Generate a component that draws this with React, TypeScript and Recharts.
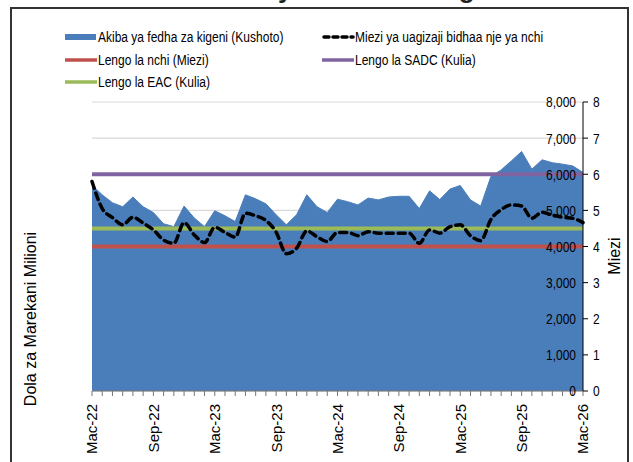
import { ComposedChart, Area, Line, XAxis, YAxis, CartesianGrid, ReferenceLine } from "recharts"

const months = [
  "Mac-22", "Apr-22", "Mei-22", "Jun-22", "Jul-22", "Ago-22", "Sep-22", "Okt-22", "Nov-22", "Des-22", "Jan-23", "Feb-23",
  "Mac-23", "Apr-23", "Mei-23", "Jun-23", "Jul-23", "Ago-23", "Sep-23", "Okt-23", "Nov-23", "Des-23", "Jan-24", "Feb-24",
  "Mac-24", "Apr-24", "Mei-24", "Jun-24", "Jul-24", "Ago-24", "Sep-24", "Okt-24", "Nov-24", "Des-24", "Jan-25", "Feb-25",
  "Mac-25", "Apr-25", "Mei-25", "Jun-25", "Jul-25", "Ago-25", "Sep-25", "Okt-25", "Nov-25", "Des-25", "Jan-26", "Feb-26",
  "Mac-26",
]

// Akiba ya fedha za kigeni (milioni USD)
const reserves = [
  5700, 5430, 5210, 5100, 5370, 5100, 4940, 4630, 4550, 5120, 4790, 4550,
  4990, 4850, 4690, 5430, 5320, 5180, 4880, 4600, 4880, 5430, 5100, 4940,
  5310, 5240, 5150, 5340, 5290, 5370, 5390, 5390, 5050, 5540, 5300, 5590,
  5690, 5290, 5120, 5940, 6120, 6370, 6630, 6140, 6400, 6320, 6280, 6230,
  6050,
]

// Miezi ya uagizaji bidhaa nje ya nchi
const importMonths = [
  5.8, 5.05, 4.8, 4.6, 4.81, 4.65, 4.46, 4.18, 4.09, 4.66, 4.32, 4.11,
  4.53, 4.39, 4.26, 4.92, 4.85, 4.72, 4.4, 3.8, 3.95, 4.43, 4.27, 4.14,
  4.39, 4.39, 4.3, 4.41, 4.37, 4.37, 4.37, 4.37, 4.09, 4.46, 4.37, 4.55,
  4.6, 4.3, 4.16, 4.75, 5.02, 5.15, 5.12, 4.78, 4.95, 4.87, 4.81, 4.78,
  4.66,
]

const targetNational = 4
const targetSADC = 6
const targetEAC = 4.5

const leftTicks = [0, 1000, 2000, 3000, 4000, 5000, 6000, 7000, 8000]
const rightTicks = [0, 1, 2, 3, 4, 5, 6, 7, 8]

const legendItems = [
  { name: "Akiba ya fedha za kigeni (Kushoto)", color: "#4A7EBB", kind: "area" },
  { name: "Miezi ya uagizaji bidhaa nje ya nchi", color: "#000000", kind: "dash" },
  { name: "Lengo la nchi (Miezi)", color: "#C0504D", kind: "line" },
  { name: "Lengo la SADC (Kulia)", color: "#8064A2", kind: "line" },
  { name: "Lengo la EAC (Kulia)", color: "#9BBB59", kind: "line" },
]

const data = months.map((m, i) => ({ month: m, reserves: reserves[i], cover: importMonths[i] }))

const font = "'Liberation Sans', Arial, sans-serif"
const squeeze = 0.8

function MonthTick(props: any) {
  const { x, y, payload, index } = props
  if (index % 6 !== 0) return null
  return (
    <g transform={`translate(${x},${y})`}>
      <text transform="rotate(-90)" textAnchor="end" dy="0.36em" dx={-6} fontSize={15} fontFamily={font} fill="#000">
        {payload.value}
      </text>
    </g>
  )
}

// labels in the original look condensed, so squash them horizontally
function NarrowTick(props: any) {
  const { x, y, payload, textAnchor, formatter } = props
  const label = formatter ? formatter(payload.value) : payload.value
  return (
    <text
      transform={`translate(${x},${y}) scale(${squeeze},1)`}
      textAnchor={textAnchor}
      dy="0.36em"
      fontSize={15}
      fontFamily={font}
      fill="#000"
    >
      {label}
    </text>
  )
}

function Legend() {
  const pos = [
    { x: 65, y: 37 },
    { x: 322, y: 37 },
    { x: 65, y: 60 },
    { x: 322, y: 60 },
    { x: 65, y: 82 },
  ]
  return (
    <>
      {legendItems.map((item, i) => {
        const p = pos[i]
        const w = 31
        return (
          <g key={item.name}>
            {item.kind === "area" ? (
              <rect x={p.x} y={p.y - 3} width={w} height={6} fill={item.color} />
            ) : item.kind === "dash" ? (
              <line
                x1={p.x + 2}
                x2={p.x + w}
                y1={p.y}
                y2={p.y}
                stroke={item.color}
                strokeWidth={3.5}
                strokeDasharray="5 4"
                strokeLinecap="round"
              />
            ) : (
              <line x1={p.x} x2={p.x + w + 1} y1={p.y} y2={p.y} stroke={item.color} strokeWidth={3.5} />
            )}
            <text
              transform={`translate(${p.x + w + 2},${p.y}) scale(${squeeze},1)`}
              dy="0.36em"
              fontSize={15}
              fontFamily={font}
              fill="#000"
            >
              {item.name}
            </text>
          </g>
        )
      })}
    </>
  )
}

const fmtThousands = (v: number) => v.toLocaleString("en-US")

export default function App() {
  return (
    <div style={{ position: "fixed", left: 0, top: 0, width: 633, height: 462, overflow: "hidden", background: "#fff" }}>
      <div
        style={{
          position: "absolute",
          left: 10,
          top: 7,
          width: 615,
          height: 480,
          border: "2px solid #333",
        }}
      />
      <div style={{ position: "absolute", left: 0, top: 0 }}>
        <ComposedChart width={633} height={462} data={data} margin={{ top: 102, right: 10, bottom: 11, left: 92 }}>
          <CartesianGrid yAxisId="left" vertical={false} stroke="#d9d9d9" strokeWidth={1.2} />
          <XAxis
            dataKey="month"
            interval={0}
            tick={<MonthTick />}
            tickSize={5}
            height={60}
            stroke="#777"
            tickLine={{ stroke: "#777" }}
          />
          <YAxis
            yAxisId="left"
            orientation="right"
            mirror
            domain={[0, 8000]}
            ticks={leftTicks}
            axisLine={false}
            tickLine={false}
            tickSize={0}
            tickMargin={7}
            tick={<NarrowTick formatter={fmtThousands} />}
          />
          <YAxis
            yAxisId="right"
            orientation="right"
            domain={[0, 8]}
            ticks={rightTicks}
            width={40}
            axisLine={{ stroke: "#000" }}
            tickLine={{ stroke: "#000" }}
            tickSize={5}
            tickMargin={5}
            tick={<NarrowTick />}
          />
          <Area
            yAxisId="left"
            dataKey="reserves"
            type="linear"
            fill="#4A7EBB"
            fillOpacity={1}
            stroke="#4A7EBB"
            strokeWidth={1}
            isAnimationActive={false}
          />
          <ReferenceLine yAxisId="right" y={targetSADC} stroke="#8064A2" strokeWidth={4} />
          <ReferenceLine yAxisId="right" y={targetEAC} stroke="#9BBB59" strokeWidth={4} />
          <ReferenceLine yAxisId="right" y={targetNational} stroke="#C0504D" strokeWidth={4} />
          <Line
            yAxisId="right"
            dataKey="cover"
            type="monotone"
            stroke="#000"
            strokeWidth={3.5}
            strokeDasharray="7 5"
            strokeLinecap="round"
            dot={false}
            isAnimationActive={false}
          />
        </ComposedChart>
      </div>
      <svg width={633} height={462} style={{ position: "absolute", left: 0, top: 0, pointerEvents: "none" }}>
        <text x={200} y={-2} fontSize={26} fontWeight="bold" fontFamily={font} fill="#222">
          Akiba ya Fedha za Kigeni
        </text>
        <Legend />
        <text
          transform="translate(30,319) rotate(-90)"
          textAnchor="middle"
          dy="0.36em"
          fontSize={16}
          fontFamily={font}
          fill="#000"
        >
          Dola za Marekani Milioni
        </text>
        <text
          transform="translate(614,256) rotate(-90)"
          textAnchor="middle"
          dy="0.36em"
          fontSize={16}
          fontFamily={font}
          fill="#000"
        >
          Miezi
        </text>
      </svg>
    </div>
  )
}
